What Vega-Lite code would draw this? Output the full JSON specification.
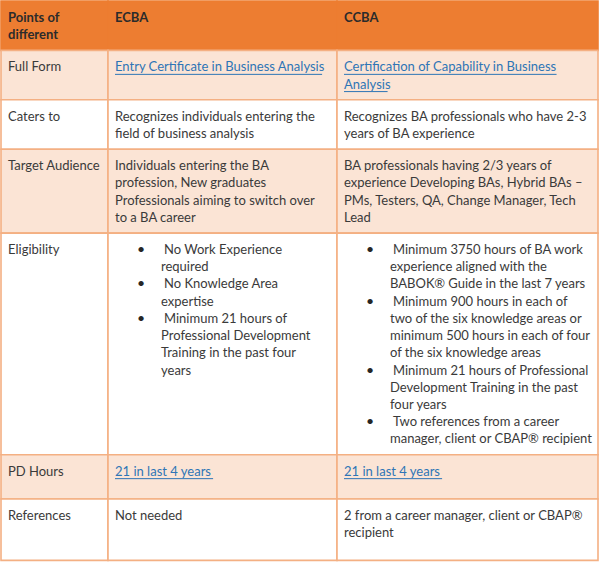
{
  "$schema": "https://vega.github.io/schema/vega-lite/v6.json",
  "width": 602,
  "height": 563,
  "padding": 0,
  "autosize": {"type": "fit", "contains": "padding"},
  "background": "#ffffff",
  "config": {"view": {"stroke": null}},
  "datasets": {
    "cols": [
      {"c": "c0", "x0": 1, "x1": 108},
      {"c": "c1", "x0": 108, "x1": 337},
      {"c": "c2", "x0": 337, "x1": 598}
    ],
    "rows": [
      {"r": 0, "blank": 0,
       "c0": [{"t": "Points of", "k": "h"}, {"t": "different", "k": "h"}],
       "c1": [{"t": "ECBA", "k": "h"}],
       "c2": [{"t": "CCBA", "k": "h"}]},
      {"r": 1, "blank": 0,
       "c0": [{"t": "Full Form", "k": "n"}],
       "c1": [{"t": "Entry Certificate in Business Analysis", "k": "u"}],
       "c2": [{"t": "Certification of Capability in Business", "k": "u"}, {"t": "Analysis", "k": "u"}]},
      {"r": 2, "blank": 0,
       "c0": [{"t": "Caters to", "k": "n"}],
       "c1": [{"t": "Recognizes individuals entering the", "k": "n"}, {"t": "field of business analysis", "k": "n"}],
       "c2": [{"t": "Recognizes BA professionals who have 2-3", "k": "n"}, {"t": "years of BA experience", "k": "n"}]},
      {"r": 3, "blank": 0,
       "c0": [{"t": "Target Audience", "k": "n"}],
       "c1": [{"t": "Individuals entering the BA", "k": "n"}, {"t": "profession, New graduates", "k": "n"}, {"t": "Professionals aiming to switch over", "k": "n"}, {"t": "to a BA career", "k": "n"}],
       "c2": [{"t": "BA professionals having 2/3 years of", "k": "n"}, {"t": "experience Developing BAs, Hybrid BAs –", "k": "n"}, {"t": "PMs, Testers, QA, Change Manager, Tech", "k": "n"}, {"t": "Lead", "k": "n"}]},
      {"r": 4, "blank": 0,
       "c0": [{"t": "Eligibility", "k": "n"}],
       "c1": [{"t": "No Work Experience", "k": "b"}, {"t": "required", "k": "bc"}, {"t": "No Knowledge Area", "k": "b"}, {"t": "expertise", "k": "bc"}, {"t": "Minimum 21 hours of", "k": "b"}, {"t": "Professional Development", "k": "bc"}, {"t": "Training in the past four", "k": "bc"}, {"t": "years", "k": "bc"}],
       "c2": [{"t": "Minimum 3750 hours of BA work", "k": "b"}, {"t": "experience aligned with the", "k": "bc"}, {"t": "BABOK® Guide in the last 7 years", "k": "bc"}, {"t": "Minimum 900 hours in each of", "k": "b"}, {"t": "two of the six knowledge areas or", "k": "bc"}, {"t": "minimum 500 hours in each of four", "k": "bc"}, {"t": "of the six knowledge areas", "k": "bc"}, {"t": "Minimum 21 hours of Professional", "k": "b"}, {"t": "Development Training in the past", "k": "bc"}, {"t": "four years", "k": "bc"}, {"t": "Two references from a career", "k": "b"}, {"t": "manager, client or CBAP® recipient", "k": "bc"}]},
      {"r": 5, "blank": 0.7,
       "c0": [{"t": "PD Hours", "k": "n"}],
       "c1": [{"t": "21 in last 4 years", "k": "u"}],
       "c2": [{"t": "21 in last 4 years", "k": "u"}]},
      {"r": 6, "blank": 0.7,
       "c0": [{"t": "References", "k": "n"}],
       "c1": [{"t": "Not needed", "k": "n"}],
       "c2": [{"t": "2 from a career manager, client or CBAP®", "k": "n"}, {"t": "recipient", "k": "n"}]}
    ]
  },
  "data": {"name": "rows"},
  "transform": [
    {"calculate": "max(length(datum.c0), length(datum.c1), length(datum.c2)) + datum.blank", "as": "span"},
    {"calculate": "datum.span * 17.25 + 15", "as": "h"},
    {"window": [{"op": "sum", "field": "h", "as": "bottom"}], "sort": [{"field": "r", "order": "ascending"}], "frame": [null, 0]},
    {"calculate": "datum.bottom - datum.h", "as": "top"},
    {"calculate": "datum.r == 0 ? 'head' : (datum.r % 2 == 1 ? 'shade' : 'plain')", "as": "band"},
    {"fold": ["c0", "c1", "c2"], "as": ["c", "items"]},
    {"flatten": ["items"], "as": ["item"]},
    {"window": [{"op": "row_number", "as": "n"}], "groupby": ["r", "c"]},
    {"lookup": "c", "from": {"data": {"name": "cols"}, "key": "c", "fields": ["x0", "x1"]}},
    {"calculate": "datum.item.t", "as": "t"},
    {"calculate": "datum.item.k", "as": "k"},
    {"calculate": "datum.x0 + (datum.k == 'b' ? 56 : (datum.k == 'bc' ? 53 : 7))", "as": "tx"},
    {"calculate": "datum.top + 17 + (datum.n - 1) * 17.25", "as": "ty"}
  ],
  "layer": [
    {
      "transform": [{"filter": "datum.n == 1"}],
      "mark": {"type": "rect", "strokeWidth": 1.6},
      "encoding": {
        "x": {"field": "x0", "type": "quantitative", "scale": {"domain": [0, 602], "nice": false, "zero": false}, "axis": null},
        "x2": {"field": "x1"},
        "y": {"field": "top", "type": "quantitative", "scale": {"domain": [0, 563], "nice": false, "zero": false, "reverse": true}, "axis": null},
        "y2": {"field": "bottom"},
        "fill": {"field": "band", "type": "nominal", "scale": {"domain": ["head", "shade", "plain"], "range": ["#ED7D31", "#FBE4D5", "#FFFFFF"]}, "legend": null},
        "stroke": {"field": "band", "type": "nominal", "scale": {"domain": ["head", "shade", "plain"], "range": ["#ED7D31", "#F4B083", "#F4B083"]}, "legend": null}
      }
    },
    {
      "transform": [{"filter": "datum.k == 'u'"}, {"calculate": "datum.tx + length(datum.t) * 5.45", "as": "ux"}, {"calculate": "datum.ty + 7", "as": "uy"}],
      "mark": {"type": "rule", "color": "#2E75B6", "strokeWidth": 1},
      "encoding": {
        "x": {"field": "tx", "type": "quantitative"},
        "x2": {"field": "ux"},
        "y": {"field": "uy", "type": "quantitative"}
      }
    },
    {
      "transform": [{"filter": "datum.k == 'b'"}, {"calculate": "datum.x0 + 33", "as": "bx"}],
      "mark": {"type": "text", "font": "Lato", "fontSize": 14, "color": "#262626", "align": "center", "baseline": "middle"},
      "encoding": {
        "x": {"field": "bx", "type": "quantitative"},
        "y": {"field": "ty", "type": "quantitative"},
        "text": {"value": "•"}
      }
    },
    {
      "transform": [{"filter": "datum.k != 'h'"}],
      "mark": {"type": "text", "font": "Lato", "fontSize": 13, "align": "left", "baseline": "middle"},
      "encoding": {
        "x": {"field": "tx", "type": "quantitative"},
        "y": {"field": "ty", "type": "quantitative"},
        "text": {"field": "t"},
        "color": {"condition": {"test": "datum.k == 'u'", "value": "#2E75B6"}, "value": "#3A3A3A"}
      }
    },
    {
      "transform": [{"filter": "datum.k == 'h'"}],
      "mark": {"type": "text", "font": "Lato", "fontSize": 13, "fontWeight": "bold", "color": "#2B2B2B", "align": "left", "baseline": "middle"},
      "encoding": {
        "x": {"field": "tx", "type": "quantitative"},
        "y": {"field": "ty", "type": "quantitative"},
        "text": {"field": "t"}
      }
    }
  ]
}
